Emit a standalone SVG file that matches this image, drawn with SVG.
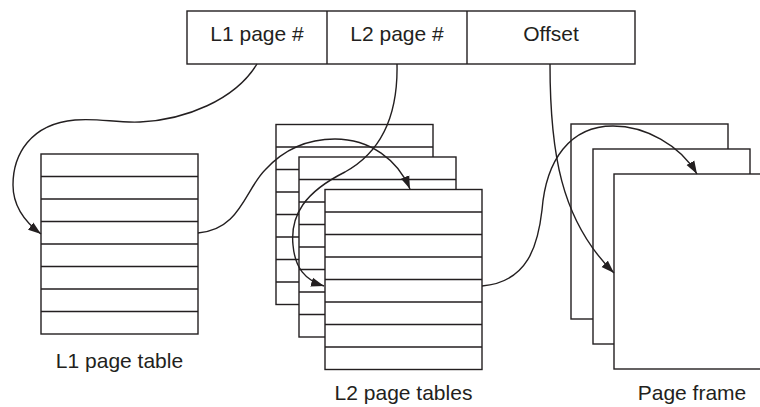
<svg xmlns="http://www.w3.org/2000/svg" width="760" height="407" viewBox="0 0 760 407">
<defs>
<style>
.box{fill:#fff;stroke:#231f20;stroke-width:1.4}
.ln{stroke:#231f20;stroke-width:1.4;fill:none}
.lbl{font-family:"Liberation Sans",Arial,sans-serif;font-size:21px;fill:#231f20;text-anchor:middle}
.conn{fill:none;stroke:#231f20;stroke-width:1.4}
</style>
<marker id="ah" markerUnits="userSpaceOnUse" markerWidth="14" markerHeight="10" refX="13" refY="5" orient="auto">
<path d="M0,0.5 L13,5 L0,9.5 z" fill="#231f20"/>
</marker>
<g id="tbl">
<rect class="box" x="0" y="0" width="157" height="180"/>
<path class="ln" d="M0,22.5H157M0,45H157M0,67.5H157M0,90H157M0,112.5H157M0,135H157M0,157.5H157"/>
</g>
</defs>

<g id="address">
<rect class="box" x="187" y="11" width="448" height="53"/>
<path class="ln" d="M327,11V64M467,11V64"/>
<text class="lbl" x="257" y="41">L1 page #</text>
<text class="lbl" x="397" y="41">L2 page #</text>
<text class="lbl" x="551" y="41">Offset</text>
</g>

<g id="l1-table">
<use href="#tbl" x="41" y="154"/>
<text class="lbl" x="119.5" y="368">L1 page table</text>
</g>

<g id="l2-tables">
<use href="#tbl" x="276" y="124.5"/>
<use href="#tbl" x="299" y="157"/>
<use href="#tbl" x="325" y="189.5"/>
<text class="lbl" x="403.5" y="400">L2 page tables</text>
</g>

<g id="page-frames">
<rect class="box" x="571" y="124" width="157" height="195"/>
<rect class="box" x="593" y="149" width="157" height="195"/>
<rect class="box" x="614" y="174" width="157" height="195"/>
<text class="lbl" x="692" y="400">Page frame</text>
</g>

<g id="connectors">
<path class="conn" marker-end="url(#ah)" d="M257,64 C235,100 185,120 140,122 C115,123 100,118 75,120 C30,124 13,155 13,185 C13,205 25,222 41,234"/>
<path class="conn" marker-end="url(#ah)" d="M397,64 C398,110 385,150 345,172 C305,192 290,215 293,245 C295,268 305,280 324,286"/>
<path class="conn" marker-end="url(#ah)" d="M198,233 C240,230 245,190 265,170 C285,148 310,139 335,139 C370,139 398,160 410,189"/>
<path class="conn" marker-end="url(#ah)" d="M482,286 C528,282 538,245 542,210 C546,160 570,126 613,126 C645,126 680,145 697,174"/>
<path class="conn" marker-end="url(#ah)" d="M550,64 C550,150 560,220 614,273"/>
</g>
</svg>
